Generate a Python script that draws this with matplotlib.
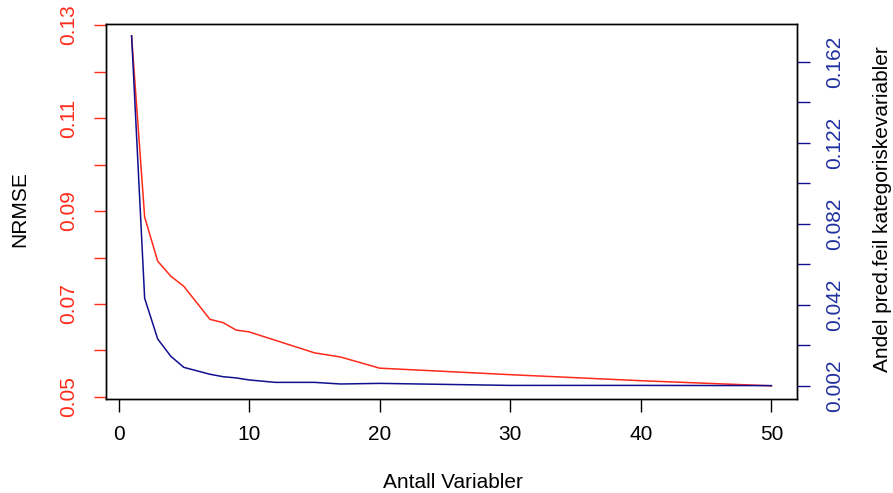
import matplotlib.pyplot as plt

plt.rcParams['font.family'] = ['Liberation Sans', 'DejaVu Sans']

# antall variabler og NRMSE (rød), andel feil kategoriske (blå)
x_red = [1, 2, 3, 4, 5, 7, 8, 9, 10, 15, 17, 20, 30, 40, 50]
nrmse = [0.1276, 0.0887, 0.0792, 0.0760, 0.0738, 0.0667, 0.0660, 0.0644, 0.0640,
         0.0595, 0.0586, 0.0562, 0.0548, 0.0535, 0.0524]
x_blue = [1, 2, 3, 4, 5, 7, 8, 9, 10, 12, 15, 17, 20, 30, 40, 50]
andel = [0.1748, 0.0453, 0.0252, 0.0167, 0.0112, 0.0078, 0.0066, 0.0060, 0.0050,
         0.0038, 0.0038, 0.0030, 0.0033, 0.0023, 0.0023, 0.0022]

x_ticks = [0, 10, 20, 30, 40, 50]
left_ticks = [0.05, 0.06, 0.07, 0.08, 0.09, 0.10, 0.11, 0.12, 0.13]
left_labels = ['0.05', '', '0.07', '', '0.09', '', '0.11', '', '0.13']
right_ticks = [0.002, 0.022, 0.042, 0.062, 0.082, 0.102, 0.122, 0.142, 0.162]
right_labels = ['0.002', '', '0.042', '', '0.082', '', '0.122', '', '0.162']

rod = '#ff2a1a'
bla = '#10108f'
bla_txt = '#2030a0'
fs = 15

fig = plt.figure(figsize=(8.93, 4.93), dpi=100)
ax = fig.add_axes([0.1187, 0.1907, 0.8925 - 0.1187, 0.9513 - 0.1907])

ax.plot(x_red, nrmse, color=rod, lw=1.1)
ax.set_xlim(1 - 1.96, 50 + 1.96)
ax.set_ylim(0.04957, 0.13022)
ax.set_xticks(x_ticks)
ax.set_yticks(left_ticks)
ax.set_yticklabels(left_labels)
ax.tick_params(axis='x', length=9, width=1, pad=10, labelsize=fs, colors='black')
ax.tick_params(axis='y', length=9, width=1, pad=11, labelsize=fs, colors=rod, labelrotation=90)
for t in ax.get_yticklabels():
    t.set_va('center')

ax2 = ax.twinx()
ax2.plot(x_blue, andel, color=bla, lw=1.1)
ax2.set_ylim(-0.0044, 0.1806)
ax2.set_yticks(right_ticks)
ax2.set_yticklabels(right_labels)
ax2.tick_params(axis='y', length=9, width=1, pad=11, labelsize=fs, colors=bla,
                labelcolor=bla_txt, labelrotation=90)
for t in ax2.get_yticklabels():
    t.set_va('center')

for a in (ax, ax2):
    for s in a.spines.values():
        s.set_color('black')
        s.set_linewidth(1)

fig.text(0.0225, 0.575, 'NRMSE', rotation=90, ha='center', va='center', fontsize=fs)
fig.text(0.5075, 0.022, 'Antall Variabler', ha='center', va='center', fontsize=fs)
fig.text(0.988, 0.575, 'Andel pred.feil kategoriskevariabler', rotation=90,
         ha='center', va='center', fontsize=fs)

fig.savefig('out.png', dpi=100)
